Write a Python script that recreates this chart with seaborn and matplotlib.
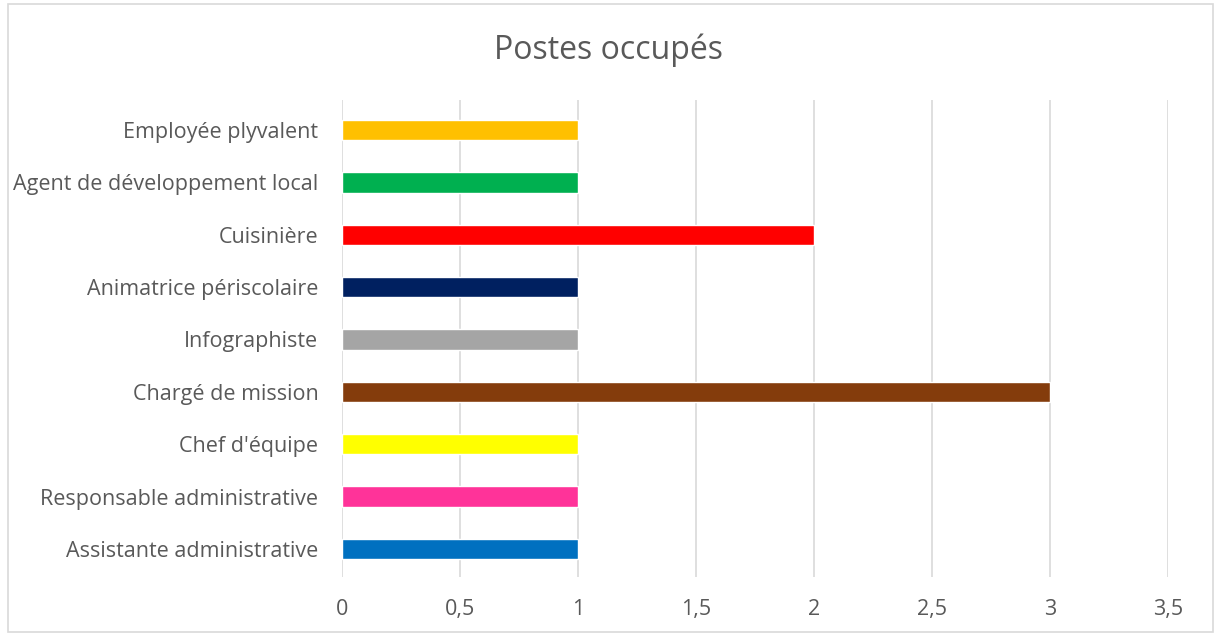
import matplotlib
matplotlib.use("Agg")
import matplotlib.pyplot as plt
import seaborn as sns
import pandas as pd
from matplotlib.patches import Rectangle
from matplotlib.ticker import MultipleLocator, FuncFormatter

categories = ["Employée plyvalent", "Agent de développement local", "Cuisinière",
              "Animatrice périscolaire", "Infographiste", "Chargé de mission",
              "Chef d'équipe", "Responsable administrative", "Assistante administrative"]
values = [1, 1, 2, 1, 1, 3, 1, 1, 1]
colors = ["#FFC000", "#00B050", "#FF0000", "#002060", "#A5A5A5", "#843C0C",
          "#FFFF00", "#FF3399", "#0070C0"]
title = "Postes occupés"

sns.set_theme(style="white")
plt.rcParams['font.family'] = ['Open Sans', 'DejaVu Sans']
txt = "#595959"

df = pd.DataFrame({"cat": categories, "val": values})
fig = plt.figure(figsize=(12.18, 6.36), dpi=100)
ax = fig.add_axes([342/1218, 1-577/636, (1168-342)/1218, (577-100)/636])
sns.barplot(data=df, x="val", y="cat", hue="cat", order=categories,
            palette=dict(zip(categories, colors)), width=0.39, legend=False,
            saturation=1, ax=ax, zorder=3)
ax.set_xlim(0, 3.5)
ax.set_ylim(len(categories) - 1 + 0.535, -0.573)
ax.xaxis.set_major_locator(MultipleLocator(0.5))
ax.xaxis.set_major_formatter(FuncFormatter(lambda v, p: ("%g" % v).replace(".", ",")))
ax.grid(axis="x", color="#D9D9D9", linewidth=1.2, zorder=0)
ax.set_axisbelow(True)
for s in ax.spines.values():
    s.set_visible(False)
ax.set_xlabel("")
ax.set_ylabel("")
ax.tick_params(axis="both", length=0, labelsize=15.5, labelcolor=txt)
ax.tick_params(axis="x", pad=16)
ax.tick_params(axis="y", pad=17)
for lbl in ax.get_xticklabels() + ax.get_yticklabels():
    lbl.set_color(txt)
fig.text(0.5, 1-50/636, title, ha="center", va="center", fontsize=23, color=txt)
fig.patches.append(Rectangle((8/1218, 4/636), (1213-8)/1218, (632-4)/636,
                             transform=fig.transFigure, fill=False,
                             edgecolor="#D9D9D9", linewidth=1.2))
fig.savefig("out.png", dpi=100)
